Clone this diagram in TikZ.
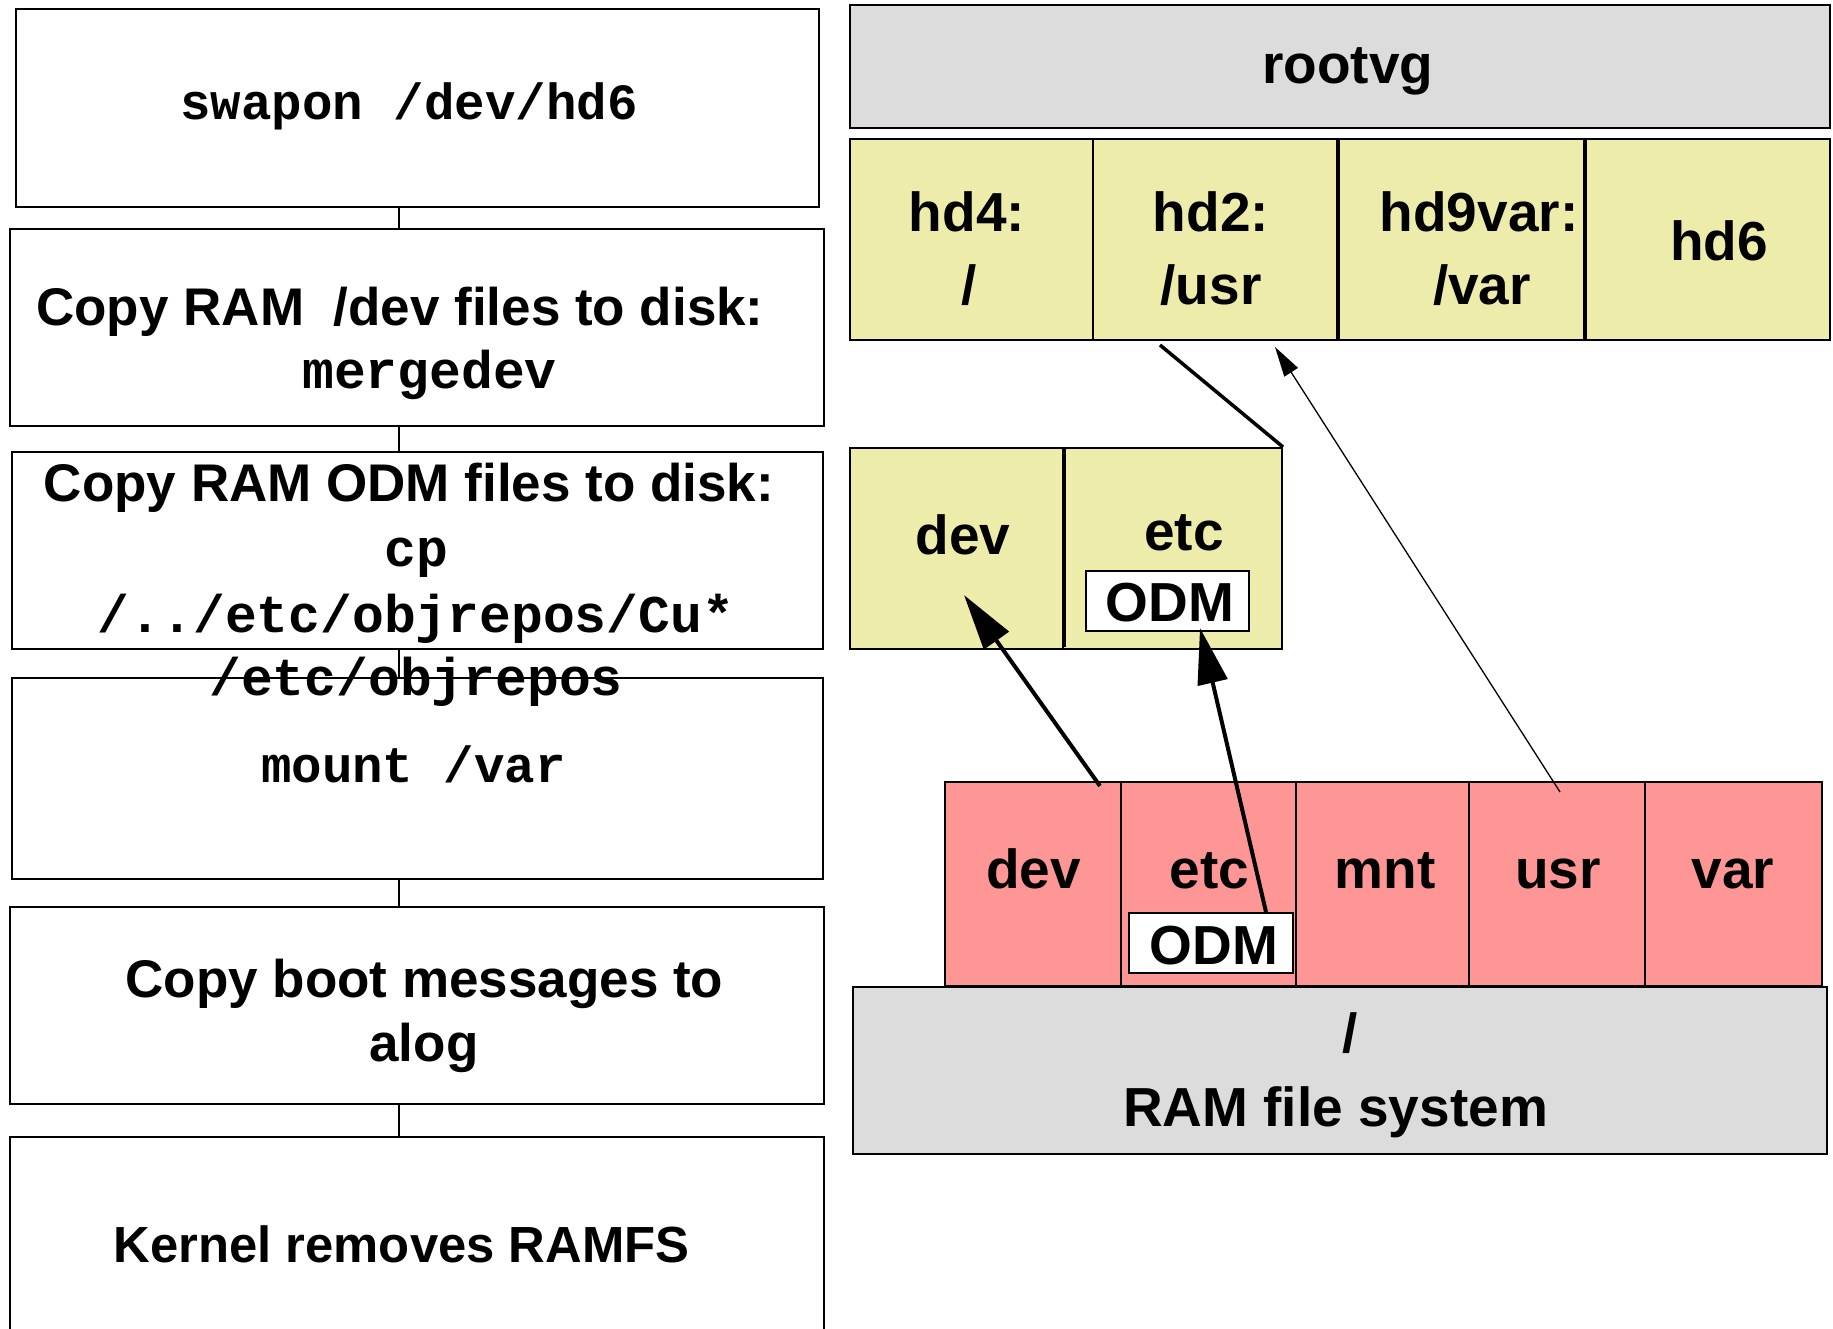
\documentclass[tikz,border=0pt]{standalone}
\usepackage{fontspec}
\setmainfont{Liberation Sans}
\newfontfamily\codefont{Liberation Mono}
\usetikzlibrary{arrows.meta}
\definecolor{volgrey}{HTML}{DCDCDC}
\definecolor{lvyellow}{HTML}{EEECAA}
\definecolor{ramred}{HTML}{FF9696}
\tikzset{
  stepbox/.style={draw=black, line width=1pt, fill=white, inner sep=0pt},
  cell/.style={draw=black, line width=1pt, inner sep=0pt},
  txt/.style={anchor=base, inner sep=0pt, font=\bfseries\fontsize{26.5}{32}\selectfont},
  smalltxt/.style={anchor=base, inner sep=0pt, font=\bfseries\fontsize{25.4}{30}\selectfont},
  code/.style={anchor=base, inner sep=0pt, font=\codefont\bfseries\fontsize{26.5}{32}\selectfont},
  smallcode/.style={anchor=base, inner sep=0pt, font=\codefont\bfseries\fontsize{25.4}{30}\selectfont},
  lbl/.style={anchor=base, inner sep=0pt, font=\bfseries\fontsize{27.5}{33}\selectfont},
  link/.style={draw=black, line width=0.8pt},
  copyarrow/.style={draw=black, line width=2pt, -{Triangle[length=28pt,width=15pt]}},
  mountarrow/.style={draw=black, line width=0.65pt, -{Triangle[length=15pt,width=8pt]}},
  mountline/.style={draw=black, line width=1.75pt}
}
\begin{document}
\begin{tikzpicture}[x=0.5pt, y=-0.5pt]
\useasboundingbox (0,0) rectangle (1833,1329);
\clip (0,0) rectangle (1833,1329);

% ---- boot steps (left column) ----
\node[stepbox, minimum width=401.5pt, minimum height=99pt]   (b1) at (417.5,108)   {};
\node[stepbox, minimum width=407pt,   minimum height=98.5pt] (b2) at (417,327.5)   {};
\node[stepbox, minimum width=405.5pt, minimum height=98.5pt] (b3) at (417.5,550.5) {};
\node[stepbox, minimum width=405.5pt, minimum height=100.5pt](b4) at (417.5,778.5) {};
\node[stepbox, minimum width=407pt,   minimum height=98.5pt] (b5) at (417,1005.5)  {};
\node[stepbox, minimum width=407pt,   minimum height=111.5pt](b6) at (417,1248.5)  {};

\coordinate (spine) at (399,0);
\draw[link] (b1.south -| spine) -- (b2.north -| spine);
\draw[link] (b2.south -| spine) -- (b3.north -| spine);
\draw[link] (b3.south -| spine) -- (b4.north -| spine);
\draw[link] (b4.south -| spine) -- (b5.north -| spine);
\draw[link] (b5.south -| spine) -- (b6.north -| spine);

\node[smallcode] (t1)  at (409,119)     {swapon /dev/hd6};
\node[txt]  (t2a) at (400,325)     {Copy RAM \ /dev files to disk:};
\node[code] (t2b) at (429.5,388)   {mergedev};
\node[txt]  (t3a) at (409,501.7)   {Copy RAM ODM files to disk:};
\node[code] (t3b) at (416.6,566)   {cp};
\node[code] (t3c) at (416,632)     {/../etc/objrepos/Cu*};
\node[code] (t3d) at (416,695)     {/etc/objrepos};
\node[smallcode] (t4)  at (413.5,782)   {mount /var};
\node[txt]  (t5a) at (424.5,997)   {Copy boot messages to};
\node[txt]  (t5b) at (424,1061.7)  {alog};
\node[smalltxt] (t6)  at (401.6,1262.5){Kernel removes RAMFS};

% ---- rootvg and its logical volumes ----
\node[cell, fill=volgrey, minimum width=490pt, minimum height=61.5pt] (rootvg) at (1340,66.5) {};
\node[lbl] (rootvgt) at (1347.7,83.3) {rootvg};

\node[cell, fill=lvyellow, minimum width=121.5pt, minimum height=100.5pt] (hd4) at (971.5,239.5) {};
\node[cell, fill=lvyellow, minimum width=122pt,   minimum height=100.5pt] (hd2) at (1215,239.5)  {};
\node[cell, fill=lvyellow, minimum width=122.5pt, minimum height=100.5pt] (hd9) at (1461.5,239.5){};
\node[cell, fill=lvyellow, minimum width=122pt,   minimum height=100.5pt] (hd6) at (1708,239.5)  {};
\node[lbl] (hd4a) at (967,231)  {hd4:};
\node[lbl] (hd4b) at (969,304)  {/};
\node[lbl] (hd2a) at (1211,231) {hd2:};
\node[lbl] (hd2b) at (1211,304) {/usr};
\node[lbl] (hd9a) at (1479,231) {hd9var:};
\node[lbl] (hd9b) at (1482,304) {/var};
\node[lbl] (hd6a) at (1719,260) {hd6};

% ---- /usr file system seen on disk ----
\node[cell, fill=lvyellow, minimum width=106.5pt, minimum height=100.5pt] (ydev) at (956.5,548.5)  {};
\node[cell, fill=lvyellow, minimum width=109.5pt, minimum height=100.5pt] (yetc) at (1172.5,548.5) {};
\draw[mountline] (ydev.north east) -- ([yshift=1.5pt]ydev.south east);
\node[cell, fill=white, minimum width=81.5pt, minimum height=30pt] (yodm) at (1167.5,601) {};
\node[lbl] (ydevt) at (963,554)    {dev};
\node[lbl] (yetct) at (1184,550)   {etc};
\node[lbl] (yodmt) at (1170,621.7) {ODM};

% ---- RAM file system ----
\node[cell, fill=ramred, minimum width=88pt,   minimum height=102pt] (rdev) at (1033,884)   {};
\node[cell, fill=ramred, minimum width=87.5pt, minimum height=102pt] (retc) at (1208.5,884) {};
\node[cell, fill=ramred, minimum width=86.5pt, minimum height=102pt] (rmnt) at (1382.5,884) {};
\node[cell, fill=ramred, minimum width=88pt,   minimum height=102pt] (rusr) at (1557,884)   {};
\node[cell, fill=ramred, minimum width=88.5pt, minimum height=102pt] (rvar) at (1733.5,884) {};
\node[cell, fill=volgrey, minimum width=487pt, minimum height=83.5pt] (ramfs) at (1340,1070.5) {};
\node[cell, fill=white, minimum width=82pt, minimum height=30pt] (rodm) at (1211,943) {};

\node[lbl] (rdevt) at (1033.5,888) {dev};
\node[lbl] (retct) at (1209.6,888) {etc};
\node[lbl] (rmntt) at (1385,888)   {mnt};
\node[lbl] (rusrt) at (1558,888)   {usr};
\node[lbl] (rvart) at (1733,888)   {var};
\node[lbl] (rodmt) at (1213.7,964) {ODM};
\node[lbl] (rootslash) at (1350,1052.7) {/};
\node[lbl] (ramfst) at (1335.6,1126.7) {RAM file system};

% ---- connectors ----
\coordinate (usrfoot) at (1160,345);
\draw[mountline] (usrfoot) -- (yetc.north east);

\coordinate (rusrfrom) at (1560,792);
\coordinate (hdtwoto)  at (1275,347);
\draw[mountarrow] (rusrfrom) -- (hdtwoto);

\coordinate (rdevfrom) at (1100,786);
\coordinate (ydevto)   at (964,595);
\draw[copyarrow] (rdevfrom) -- (ydevto);

\coordinate (rodmfrom) at (1266,912);
\coordinate (yodmto)   at (1200,628);
\draw[copyarrow] (rodmfrom) -- (yodmto);
\end{tikzpicture}
\end{document}
